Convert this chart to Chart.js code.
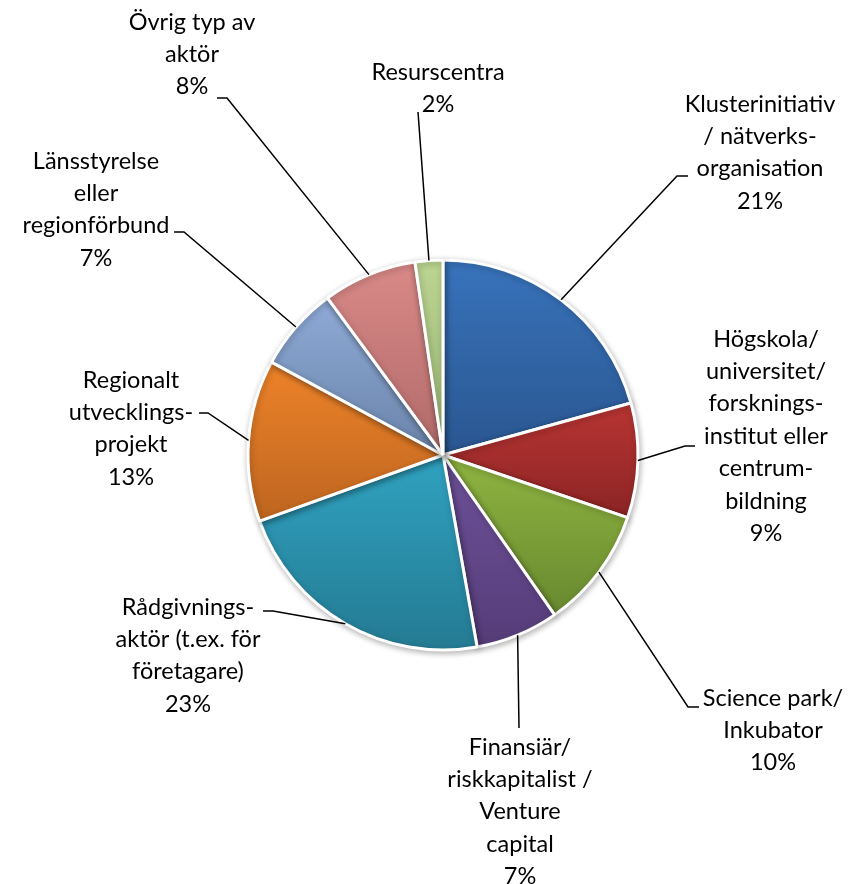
<!DOCTYPE html>
<html lang="sv">
<head>
<meta charset="UTF-8">
<title>Typ av aktör</title>
<script src="https://cdn.jsdelivr.net/npm/chart.js"></script>
<style>
  html, body { margin: 0; padding: 0; background: #fff; }
  #wrap { width: 852px; height: 884px; }
</style>
</head>
<body>
<div id="wrap"><canvas id="pie"></canvas></div>
<script>
// categories (label text split into the lines shown in the chart)
const categories = [
  ['Klusterinitiativ', '/ nätverks-', 'organisation'],
  ['Högskola/', 'universitet/', 'forsknings-', 'institut eller', 'centrum-', 'bildning'],
  ['Science park/', 'Inkubator'],
  ['Finansiär/', 'riskkapitalist /', 'Venture', 'capital'],
  ['Rådgivnings-', 'aktör (t.ex. för', 'företagare)'],
  ['Regionalt', 'utvecklings-', 'projekt'],
  ['Länsstyrelse', 'eller', 'regionförbund'],
  ['Övrig typ av', 'aktör'],
  ['Resurscentra']
];
// share of each slice
const shares = [20.7, 9.5, 10.1, 6.9, 22.3, 13.4, 7.0, 7.8, 2.3];
// percentages as printed on the labels
const pctLabels = ['21%', '9%', '10%', '7%', '23%', '13%', '7%', '8%', '2%'];

const topColors = ['#3873bb', '#b83533', '#90b541', '#6e519a', '#30a2c0', '#ee8329', '#8fabd8', '#d98a88', '#bcd592'];
const bottomColors = ['#2a5690', '#8b2424', '#68882f', '#553c78', '#247a92', '#bd6520', '#6a83a8', '#b06a69', '#98b373'];

// label placement: text centre x, first line y, elbow of leader, end of horizontal tick
const labelPos = [
  { x: 760, y: 104, ex: 677, ey: 176, hx: 688 },
  { x: 766, y: 339, ex: 685, ey: 446, hx: 695 },
  { x: 773, y: 698, ex: 688, ey: 707, hx: 699 },
  { x: 520, y: 747, ex: 519, ey: 728, hx: 519 },
  { x: 188, y: 607, ex: 273, ey: 611, hx: 263 },
  { x: 131, y: 380, ex: 208, ey: 413, hx: 199 },
  { x: 96,  y: 161, ex: 184, ey: 232, hx: 174 },
  { x: 192, y: 22,  ex: 227, ey: 98,  hx: 217 },
  { x: 438, y: 72,  ex: 418, ey: 112, hx: 418 }
];

const FONT = '23.5px Lato, "Noto Sans", sans-serif';
const LINE_H = 32.4;

function sliceGradient(ctx) {
  const chart = ctx.chart;
  const i = ctx.dataIndex;
  const area = chart.chartArea;
  if (!area || i === undefined) return topColors[i] || '#999';
  const cx = (area.left + area.right) / 2;
  const cy = (area.top + area.bottom) / 2;
  const r = Math.min(area.right - area.left, area.bottom - area.top) / 2;
  const total = shares.reduce((a, b) => a + b, 0);
  let before = 0;
  for (let k = 0; k < i; k++) before += shares[k];
  const a0 = -Math.PI / 2 + before / total * Math.PI * 2;
  const a1 = a0 + shares[i] / total * Math.PI * 2;
  let ys = [cy, cy + Math.sin(a0) * r, cy + Math.sin(a1) * r];
  // include top / bottom of circle if the arc passes them
  [-Math.PI / 2, Math.PI / 2, Math.PI * 1.5].forEach(a => {
    if (a > a0 && a < a1) ys.push(cy + Math.sin(a) * r);
  });
  const y0 = Math.min(...ys), y1 = Math.max(...ys);
  const g = chart.ctx.createLinearGradient(0, y0, 0, y1);
  g.addColorStop(0, topColors[i]);
  g.addColorStop(1, bottomColors[i]);
  return g;
}

const shadowPlugin = {
  id: 'shadow',
  beforeDatasetsDraw(chart) {
    const c = chart.ctx;
    c.save();
    c.shadowColor = 'rgba(0,0,0,0.28)';
    c.shadowBlur = 6;
    c.shadowOffsetX = 1;
    c.shadowOffsetY = 2;
  },
  afterDatasetsDraw(chart) {
    chart.ctx.restore();
  }
};

const labelPlugin = {
  id: 'outsideLabels',
  afterDraw(chart) {
    const c = chart.ctx;
    const meta = chart.getDatasetMeta(0);
    c.save();
    meta.data.forEach((arc, i) => {
      const p = arc.getProps(['x', 'y', 'startAngle', 'endAngle', 'outerRadius'], true);
      const mid = (p.startAngle + p.endAngle) / 2;
      const sx = p.x + Math.cos(mid) * p.outerRadius;
      const sy = p.y + Math.sin(mid) * p.outerRadius;
      const pos = labelPos[i];
      c.strokeStyle = '#000';
      c.lineWidth = 1.5;
      c.beginPath();
      c.moveTo(sx, sy);
      c.lineTo(pos.ex, pos.ey);
      c.lineTo(pos.hx, pos.ey);
      c.stroke();

      const lines = categories[i].concat([pctLabels[i]]);
      c.fillStyle = '#000';
      c.font = FONT;
      c.textAlign = 'center';
      c.textBaseline = 'middle';
      lines.forEach((t, k) => c.fillText(t, pos.x, pos.y + k * LINE_H));
    });
    c.restore();
  }
};

const BORDER = 3;
const SIZE = 390 + BORDER;
const CX = 443, CY = 455;

new Chart(document.getElementById('pie'), {
  type: 'pie',
  data: {
    labels: categories.map(l => l.join(' ')),
    datasets: [{
      data: shares,
      backgroundColor: sliceGradient,
      borderColor: '#ffffff',
      borderWidth: BORDER,
      hoverOffset: 0,
      offset: 0
    }]
  },
  options: {
    responsive: true,
    maintainAspectRatio: false,
    animation: false,
    events: [],
    layout: {
      padding: {
        left: CX - SIZE / 2,
        right: 852 - CX - SIZE / 2,
        top: CY - SIZE / 2,
        bottom: 884 - CY - SIZE / 2
      }
    },
    plugins: {
      legend: { display: false },
      tooltip: { enabled: false }
    }
  },
  plugins: [shadowPlugin, labelPlugin]
});
</script>
</body>
</html>
